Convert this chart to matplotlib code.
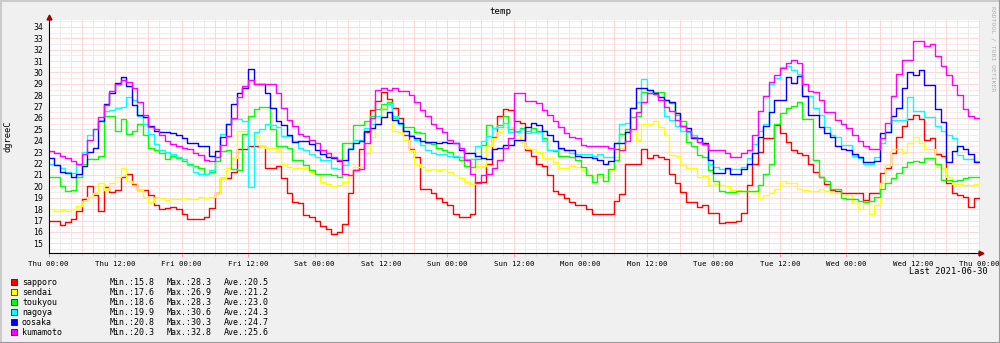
import numpy as np
import matplotlib
matplotlib.use("Agg")
import matplotlib.pyplot as plt
from matplotlib.lines import Line2D
from matplotlib.patches import Rectangle

# ---------------- data (hourly, Thu 00:00 .. Thu 00:00) ----------------
sapporo = [
    17.0, 17.0, 16.6, 16.9, 17.1, 17.8, 18.9, 20.0, 19.2, 17.8, 19.9, 19.5,
    19.7, 20.8, 21.1, 20.2, 19.7, 19.7, 19.2, 18.4, 18.0, 18.1, 18.2, 18.0,
    17.6, 17.1, 17.1, 17.1, 17.3, 18.1, 19.4, 20.7, 20.7, 21.3, 23.3, 23.3,
    23.5, 23.5, 23.5, 21.6, 21.6, 21.8, 20.7, 19.4, 18.6, 18.5, 17.5, 17.3,
    17.0, 16.5, 16.3, 15.8, 16.0, 16.7, 19.4, 21.4, 23.3, 24.8, 26.7, 27.5,
    28.3, 27.7, 26.9, 26.0, 24.5, 23.3, 22.6, 19.8, 19.8, 19.4, 19.0, 18.6,
    18.4, 17.6, 17.3, 17.3, 17.6, 20.4, 20.4, 22.0, 24.3, 26.2, 26.8, 26.7,
    25.7, 25.6, 23.2, 22.7, 22.0, 21.8, 21.0, 19.6, 19.3, 19.0, 18.6, 18.4,
    18.4, 18.0, 17.6, 17.6, 17.6, 17.6, 18.7, 19.3, 22.0, 22.0, 21.95, 23.25,
    22.45, 22.75, 22.6, 22.4, 21.1, 20.3, 19.5, 18.65, 18.6, 18.15, 18.35, 17.7,
    17.7, 16.8, 16.85, 16.85, 17.0, 17.7, 20.1, 22.0, 23.0, 24.2, 24.2, 25.4,
    24.7, 23.9, 23.2, 22.9, 22.75, 22.0, 21.3, 20.8, 20.2, 19.7, 19.6, 19.4,
    19.4, 19.4, 19.4, 18.8, 19.4, 19.4, 21.2, 21.6, 22.9, 24.35, 25.3, 25.9,
    26.25, 25.95, 24.05, 24.2, 22.8, 22.7, 20.3, 19.4, 19.25, 19.1, 18.15, 18.95,
]
sendai = [
    18.0, 17.8, 17.9, 17.8, 18.0, 18.3, 18.7, 19.1, 19.4, 20.3, 19.7, 20.3,
    20.8, 21.6, 20.5, 20.3, 19.7, 19.1, 18.6, 19.1, 19.0, 18.8, 18.9, 18.9,
    19.0, 18.9, 18.9, 19.1, 19.0, 19.1, 19.4, 20.7, 21.6, 22.45, 24.9, 24.9,
    24.5, 24.4, 23.5, 23.4, 23.4, 23.2, 22.0, 21.7, 21.6, 21.6, 21.6, 21.3,
    21.1, 20.4, 20.2, 20.0, 20.1, 20.4, 21.0, 21.7, 21.7, 22.9, 24.3, 25.5,
    26.9, 26.1, 24.9, 24.8, 24.1, 23.2, 22.0, 21.7, 21.4, 21.5, 21.4, 21.5,
    21.3, 21.0, 20.7, 20.4, 20.2, 21.8, 21.8, 23.5, 24.2, 24.8, 25.2, 25.2,
    24.5, 23.9, 23.4, 23.3, 23.0, 22.5, 22.5, 22.1, 21.6, 21.6, 21.8, 21.7,
    21.4, 21.0, 21.0, 20.8, 20.8, 21.4, 22.6, 23.4, 24.9, 24.9, 24.05, 25.5,
    25.5, 25.7, 25.2, 24.5, 22.75, 22.7, 21.9, 21.6, 21.6, 20.8, 20.9, 20.1,
    20.2, 20.1, 20.0, 19.7, 19.7, 19.6, 19.6, 19.6, 19.0, 19.2, 19.4, 19.8,
    20.5, 20.3, 20.3, 19.8, 19.7, 19.6, 19.6, 19.8, 19.6, 19.4, 19.4, 19.2,
    19.2, 18.55, 18.05, 18.6, 17.6, 18.35, 20.3, 21.9, 23.3, 23.3, 22.9, 23.8,
    24.35, 23.8, 23.3, 23.3, 21.7, 21.6, 20.8, 20.2, 20.2, 20.1, 20.1, 20.2,
]
toukyou = [
    20.8, 20.8, 20.0, 19.6, 19.65, 20.8, 22.0, 22.4, 22.4, 22.7, 26.2, 26.2,
    24.9, 25.9, 24.6, 24.9, 25.5, 24.5, 23.4, 23.2, 22.9, 22.4, 22.7, 22.5,
    22.2, 22.0, 21.8, 21.6, 21.1, 21.3, 22.2, 23.1, 23.2, 21.5, 21.4, 24.6,
    26.2, 26.8, 27.0, 27.0, 25.0, 23.5, 23.5, 23.4, 22.3, 22.3, 21.9, 21.4,
    21.1, 21.1, 21.05, 21.0, 20.85, 23.8, 23.8, 25.4, 25.4, 25.7, 26.2, 26.8,
    27.2, 27.4, 26.0, 25.6, 25.2, 25.2, 24.8, 24.7, 23.8, 23.7, 23.4, 23.2,
    23.0, 22.6, 22.3, 21.8, 21.7, 22.4, 23.6, 25.4, 25.1, 25.4, 26.2, 25.0,
    24.9, 25.1, 24.9, 25.1, 24.9, 24.2, 23.2, 23.1, 22.7, 22.7, 22.6, 22.3,
    21.7, 21.0, 20.4, 21.1, 20.5, 21.5, 22.3, 24.6, 25.0, 26.1, 26.2, 28.3,
    28.2, 28.3, 28.3, 27.6, 27.3, 26.3, 25.7, 23.9, 23.5, 22.75, 22.6, 21.4,
    20.5, 19.6, 19.5, 19.5, 19.6, 19.6, 19.6, 19.6, 20.1, 21.1, 22.0, 25.5,
    26.4, 26.9, 27.05, 27.4, 25.95, 25.95, 22.3, 20.8, 20.5, 19.8, 19.8, 19.0,
    18.9, 18.9, 18.7, 18.6, 18.7, 19.1, 19.8, 20.3, 20.7, 21.2, 21.7, 22.1,
    22.25, 22.1, 22.5, 22.5, 21.95, 20.6, 20.6, 20.5, 20.6, 20.7, 20.8, 20.8,
]
nagoya = [
    22.0, 21.9, 21.6, 21.3, 21.15, 21.9, 23.0, 24.5, 25.0, 25.8, 26.6, 26.7,
    26.9, 27.0, 27.85, 27.6, 26.2, 25.5, 24.6, 23.7, 23.2, 23.0, 22.8, 22.6,
    22.4, 21.9, 21.3, 21.1, 21.1, 21.4, 22.6, 24.6, 25.5, 25.9, 25.9, 25.7,
    19.9, 24.8, 25.0, 25.5, 25.4, 25.2, 24.4, 24.4, 24.0, 23.4, 23.2, 22.8,
    22.6, 22.3, 22.3, 21.6, 21.5, 21.9, 23.4, 24.1, 24.1, 25.1, 25.5, 26.2,
    26.8, 27.2, 26.2, 25.5, 24.9, 24.5, 24.1, 23.6, 23.2, 22.9, 22.8, 22.8,
    22.7, 22.7, 22.6, 22.4, 22.4, 23.5, 24.0, 24.4, 25.1, 25.2, 25.6, 24.8,
    24.8, 25.0, 24.7, 24.8, 24.8, 24.0, 23.2, 23.2, 23.3, 23.2, 22.9, 22.8,
    22.8, 22.8, 22.7, 22.8, 22.6, 22.6, 23.8, 25.5, 25.6, 26.9, 27.4, 29.4,
    28.45, 28.2, 27.8, 26.2, 25.8, 25.3, 24.9, 24.8, 24.5, 23.9, 23.6, 22.0,
    21.7, 21.5, 21.5, 21.5, 21.5, 21.7, 22.5, 23.7, 24.9, 25.5, 29.0, 29.55,
    30.5, 30.6, 30.2, 29.9, 27.9, 27.9, 26.9, 26.3, 25.2, 24.5, 24.3, 23.6,
    23.6, 22.65, 22.45, 21.95, 22.0, 22.6, 23.8, 24.8, 25.8, 25.8, 25.8, 27.8,
    26.6, 26.6, 26.1, 26.1, 25.3, 24.9, 24.5, 24.2, 22.75, 22.4, 22.4, 22.2,
]
oosaka = [
    22.5, 21.9, 21.3, 21.2, 20.8, 21.1, 21.8, 23.0, 23.4, 25.7, 27.2, 28.2,
    29.1, 29.6, 28.8, 27.1, 26.3, 26.1, 25.3, 24.9, 24.8, 24.8, 24.7, 24.5,
    24.2, 23.8, 23.8, 23.5, 23.5, 22.7, 23.1, 24.35, 25.5, 27.2, 28.2, 28.6,
    30.3, 29.0, 29.0, 28.2, 26.9, 25.7, 25.4, 24.5, 23.9, 24.0, 24.0, 23.7,
    23.2, 22.8, 22.6, 22.5, 22.2, 22.3, 23.3, 23.8, 24.0, 24.9, 25.1, 25.5,
    26.1, 26.5, 25.8, 25.6, 24.9, 24.4, 24.2, 24.0, 23.9, 23.9, 23.8, 23.9,
    23.8, 23.8, 23.2, 22.9, 22.9, 22.7, 22.5, 22.4, 23.3, 23.4, 23.6, 23.6,
    24.1, 24.1, 25.2, 25.6, 25.4, 24.9, 24.5, 24.0, 23.4, 23.2, 23.2, 22.7,
    22.6, 22.6, 22.5, 22.3, 22.0, 22.2, 23.8, 23.8, 24.8, 26.9, 28.6, 28.6,
    28.45, 28.2, 27.8, 27.6, 27.4, 26.4, 25.3, 25.1, 24.2, 24.2, 23.8, 22.3,
    21.2, 21.2, 21.6, 21.1, 21.1, 21.5, 22.0, 22.9, 24.3, 25.3, 26.5, 27.6,
    27.6, 29.6, 29.1, 29.7, 27.9, 26.3, 26.3, 25.2, 24.7, 24.3, 23.5, 23.3,
    23.2, 22.8, 22.6, 22.1, 22.1, 22.2, 24.7, 24.8, 26.2, 26.9, 28.6, 30.0,
    29.75, 30.25, 28.9, 28.9, 26.8, 25.65, 22.1, 23.1, 23.5, 23.3, 22.8, 22.1,
]
kumamoto = [
    23.1, 22.95, 22.7, 22.45, 22.2, 21.95, 22.8, 24.1, 25.0, 26.1, 27.1, 28.35,
    29.0, 29.3, 29.2, 28.6, 27.4, 26.3, 25.2, 25.0, 24.5, 24.0, 23.7, 23.5,
    23.4, 23.3, 22.95, 22.75, 22.3, 22.2, 22.6, 23.6, 24.4, 26.0, 27.8, 28.8,
    29.3, 29.0, 29.0, 29.0, 29.0, 28.2, 26.9, 25.8, 25.3, 24.6, 24.4, 24.1,
    23.8, 23.2, 22.9, 22.6, 22.3, 21.1, 21.0, 21.4, 21.5, 23.8, 26.0, 28.5,
    28.6, 28.5, 28.6, 28.4, 28.4, 28.0, 27.4, 26.7, 26.2, 25.5, 25.1, 24.8,
    24.1, 23.8, 23.4, 22.3, 21.1, 20.3, 21.0, 21.1, 21.6, 22.3, 23.4, 24.2,
    28.2, 28.2, 27.5, 27.5, 27.3, 26.7, 26.3, 25.7, 25.2, 24.7, 24.3, 24.2,
    23.6, 23.5, 23.5, 23.5, 23.5, 23.4, 23.3, 23.2, 24.0, 25.0, 26.5, 27.4,
    28.2, 28.1, 27.6, 27.0, 26.6, 25.8, 25.3, 24.9, 24.35, 23.9, 23.7, 23.2,
    23.2, 23.2, 22.9, 22.6, 22.6, 22.9, 23.2, 24.5, 26.6, 27.9, 29.2, 29.8,
    30.4, 30.8, 31.1, 30.8, 29.0, 28.4, 28.3, 27.6, 26.5, 26.5, 25.8, 25.5,
    25.1, 24.5, 24.0, 23.5, 23.3, 23.3, 24.2, 25.6, 27.9, 29.9, 31.1, 31.1,
    32.8, 32.8, 32.3, 32.5, 31.4, 30.6, 29.8, 28.9, 28.0, 26.8, 26.2, 26.0,
]

series_names = ["sapporo", "sendai", "toukyou", "nagoya", "oosaka", "kumamoto"]
series_colors = ["#FF0000", "#FFFF00", "#00FF00", "#00FFFF", "#0000FF", "#FF00FF"]
legend_min = ["15.8", "17.6", "18.6", "19.9", "20.8", "20.3"]
legend_max = ["28.3", "26.9", "28.3", "30.6", "30.3", "32.8"]
legend_ave = ["20.5", "21.2", "23.0", "24.3", "24.7", "25.6"]
x_tick_labels = ["Thu 00:00", "Thu 12:00", "Fri 00:00", "Fri 12:00", "Sat 00:00",
                 "Sat 12:00", "Sun 00:00", "Sun 12:00", "Mon 00:00", "Mon 12:00",
                 "Tue 00:00", "Tue 12:00", "Wed 00:00", "Wed 12:00", "Thu 00:00"]
y_ticks = list(range(15, 35))
title = "temp"
y_label = "dgreeC"
last_text = "Last 2021-06-30"
watermark = "RRDTOOL / TOBI OETIKER"

all_series = [sapporo, sendai, toukyou, nagoya, oosaka, kumamoto]

# ---------------- figure ----------------
W, H = 1000, 343
fig = plt.figure(figsize=(W / 100, H / 100), dpi=100)
fig.patch.set_facecolor("#F0F0F0")

def fx(px):
    return px / W

def fy(py):
    return 1 - py / H

mono = "DejaVu Sans Mono"
x_left, x_right, y_top, y_bot = 48.5, 979.5, 20.0, 253.0
y_lo, y_hi = 14.15, 34.6
ax = fig.add_axes([fx(x_left), fy(y_bot), fx(x_right - x_left), (y_bot - y_top) / H])
ax.set_facecolor("#FFFFFF")
n_hours = len(sapporo)
ax.set_xlim(0, n_hours)
ax.set_ylim(y_lo, y_hi)

# grid
for yv in np.arange(14.5, 34.6, 0.5):
    major = abs(yv - round(yv)) < 1e-6
    ax.axhline(yv, color="#FFD2D2" if major else "#F7E6E6", lw=0.6, zorder=1)
for hv in range(0, n_hours + 1, 2):
    major = hv % 6 == 0
    ax.axvline(hv, color="#FFD0D0" if major else "#E8E8E8", lw=0.6, zorder=1)

hours = np.arange(n_hours + 1)
for vals, col in zip(all_series, series_colors):
    v = np.asarray(vals, dtype=float)
    ax.step(hours, np.append(v, v[-1]), where="post", color=col, lw=1.0, zorder=3)

for s in ["top", "right"]:
    ax.spines[s].set_visible(False)
for s in ["left", "bottom"]:
    ax.spines[s].set_color("#000000")
    ax.spines[s].set_linewidth(0.8)
    ax.spines[s].set_zorder(5)

ax.set_yticks(y_ticks)
ax.set_yticklabels([str(t) for t in y_ticks], fontsize=5.6, family="DejaVu Sans",
                   color="#000000")
ax.tick_params(axis="y", length=0, pad=4)
ax.set_xticks(np.arange(0, n_hours + 1, 12))
ax.set_xticklabels(x_tick_labels, fontsize=5.3, family=mono)
ax.set_xticks(np.arange(0, n_hours + 1, 2), minor=True)
ax.tick_params(axis="x", which="major", length=3, width=0.6, color="#FF9090", pad=2.5)
ax.tick_params(axis="x", which="minor", length=2, width=0.6, color="#D0D0D0")

# axis arrows
ax.plot([0], [y_hi + 0.26], marker="^", markersize=3.5, color="#A00000",
        clip_on=False, zorder=6)
ax.plot([n_hours + 0.3], [y_lo], marker=">", markersize=3.5, color="#A00000",
        clip_on=False, zorder=6)

# texts
fig.text(fx(500), fy(11), title, ha="center", va="center", fontsize=6.6, family=mono)
fig.text(fx(8), fy(136), y_label, ha="center", va="center", rotation=90,
         fontsize=6.3, family=mono)
fig.text(fx(993), fy(6), watermark, ha="center", va="top", rotation=270,
         fontsize=4.6, family=mono, color="#B0B0B0")
fig.text(fx(988), fy(272), last_text, ha="right", va="center", fontsize=6.2,
         family=mono)

row_y0, row_dy = 282.3, 10.0
for i, (nm, col) in enumerate(zip(series_names, series_colors)):
    yy = row_y0 + i * row_dy
    fig.add_artist(Rectangle((fx(11), fy(yy + 3)), 6 / W, 6 / H, facecolor=col,
                             edgecolor="#000000", lw=0.5, transform=fig.transFigure))
    fig.text(fx(22), fy(yy), nm, ha="left", va="center", fontsize=6.0, family=mono)
    fig.text(fx(110), fy(yy), "Min.:" + legend_min[i], ha="left", va="center",
             fontsize=6.0, family=mono)
    fig.text(fx(167), fy(yy), "Max.:" + legend_max[i], ha="left", va="center",
             fontsize=6.0, family=mono)
    fig.text(fx(224), fy(yy), "Ave.:" + legend_ave[i], ha="left", va="center",
             fontsize=6.0, family=mono)

# frame shading
fig.add_artist(Line2D([0, 1], [1 - 0.5 / H, 1 - 0.5 / H], color="#CBCBCB", lw=1.5,
                      transform=fig.transFigure))
fig.add_artist(Line2D([0.5 / W, 0.5 / W], [0, 1], color="#CBCBCB", lw=1.5,
                      transform=fig.transFigure))
fig.add_artist(Line2D([0, 1], [0.5 / H, 0.5 / H], color="#999999", lw=1.5,
                      transform=fig.transFigure))
fig.add_artist(Line2D([1 - 0.5 / W, 1 - 0.5 / W], [0, 1], color="#999999", lw=1.5,
                      transform=fig.transFigure))

fig.savefig("out.png", dpi=100, facecolor=fig.get_facecolor())
